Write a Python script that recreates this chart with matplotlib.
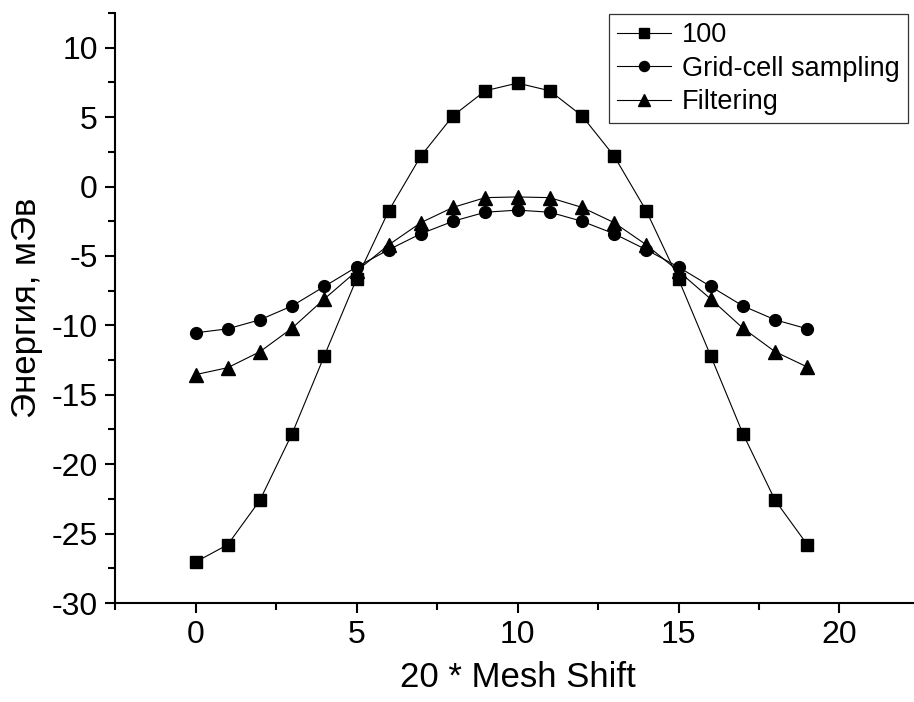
import numpy as np
import matplotlib.pyplot as plt
from matplotlib.ticker import MultipleLocator

plt.rcParams['font.family'] = ['Liberation Sans', 'DejaVu Sans']
plt.rcParams['axes.unicode_minus'] = False

shift = list(range(20))
e_100 = [-27.05, -25.8, -22.6, -17.8, -12.2, -6.67, -1.75, 2.2, 5.1, 6.9, 7.45,
         6.9, 5.1, 2.2, -1.75, -6.67, -12.2, -17.8, -22.6, -25.8]
e_grid = [-10.54, -10.25, -9.6, -8.6, -7.2, -5.8, -4.55, -3.4, -2.5, -1.85, -1.7,
          -1.85, -2.5, -3.4, -4.55, -5.8, -7.2, -8.6, -9.6, -10.25]
e_filt = [-13.55, -13.05, -11.9, -10.2, -8.1, -6.1, -4.2, -2.6, -1.5, -0.8, -0.75,
          -0.8, -1.5, -2.6, -4.2, -6.1, -8.1, -10.2, -11.9, -13.0]

fig = plt.figure(figsize=(9.14, 7.02), dpi=100)
ax = fig.add_axes([115 / 914, (702 - 603) / 702, 805 / 914, 590 / 702])

ax.plot(shift, e_100, color='black', lw=0.8, marker='s', ms=8, label='100')
ax.plot(shift, e_grid, color='black', lw=0.8, marker='o', ms=8.5, label='Grid-cell sampling')
ax.plot(shift, e_filt, color='black', lw=0.8, marker='^', ms=9.5, label='Filtering')

ax.set_xlim(-2.5, 22.5)
ax.set_ylim(-30, 12.5)
ax.xaxis.set_major_locator(MultipleLocator(5))
ax.xaxis.set_minor_locator(MultipleLocator(2.5))
ax.yaxis.set_major_locator(MultipleLocator(5))
ax.yaxis.set_minor_locator(MultipleLocator(2.5))
ax.spines['top'].set_visible(False)
ax.spines['right'].set_visible(False)
for s in ('left', 'bottom'):
    ax.spines[s].set_linewidth(1.5)
ax.tick_params(which='major', direction='out', length=7.5, width=1.5, labelsize=23, pad=5)
ax.tick_params(which='minor', direction='out', length=5, width=1.5)

ax.set_xlabel('20 * Mesh Shift', fontsize=25, labelpad=8)
ax.set_ylabel('Энергия, мЭв', fontsize=25, labelpad=6)

leg = ax.legend(loc='upper right', bbox_to_anchor=(908 / 914, 688 / 702), bbox_transform=fig.transFigure,
                fontsize=19.5, frameon=True, fancybox=False, edgecolor='black',
                handlelength=2.0, borderpad=0.3, labelspacing=0.28, handletextpad=0.4,
                borderaxespad=0, markerscale=0.85)
leg.get_frame().set_linewidth(0.9)

fig.savefig('out.png', dpi=100)
